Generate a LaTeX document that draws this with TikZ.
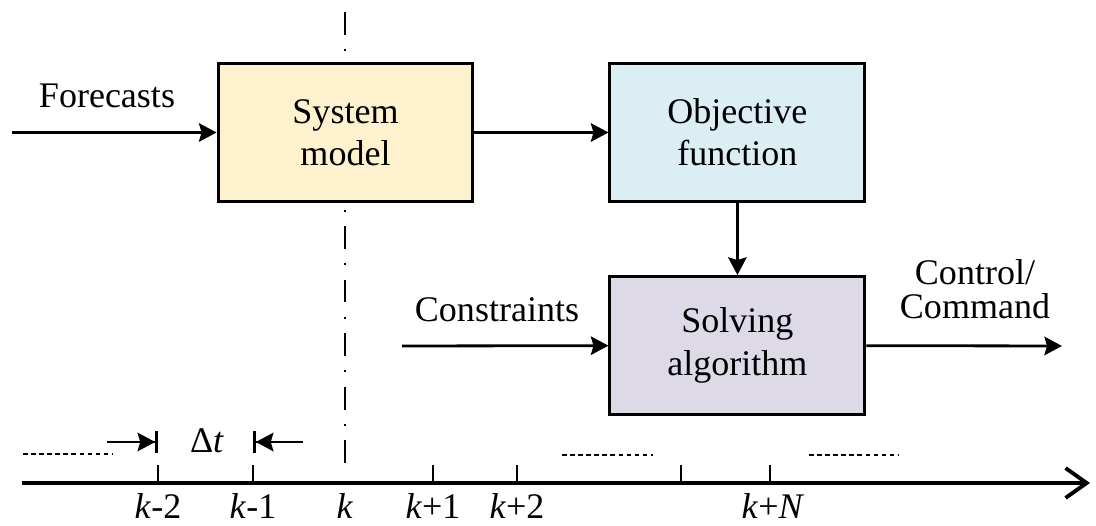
\documentclass[tikz,border=0pt]{standalone}
\usepackage{fontspec}
\setmainfont{Liberation Serif}
\usepackage{xcolor}
\usepackage{tikz}
\usetikzlibrary{positioning, arrows.meta, calc}

\definecolor{sysfill}{RGB}{253,241,206}
\definecolor{objfill}{RGB}{219,238,244}
\definecolor{solvefill}{RGB}{222,217,231}

\begin{document}
\begin{tikzpicture}[x=0.02cm, y=-0.02cm, node distance=2.68cm,
  block/.style={draw, rectangle, line width=1.7pt, minimum width=5.1cm, minimum height=2.76cm, inner sep=0pt, align=center, font=\fontsize{20.5}{24}\selectfont},
  lbl/.style={inner sep=0pt, font=\fontsize{20.5}{24}\selectfont},
  arr/.style={-{Stealth[length=10pt, width=10.5pt, inset=1.5pt]}, line width=1.6pt},
  bararr/.style={-{Stealth[length=10pt, width=10.5pt, inset=1.5pt]Bar[width=13pt]}, line width=1.6pt},
  tick/.style={line width=1.5pt},
  dots/.style={line width=1.6pt, dash pattern=on 2.6pt off 2pt}]
\useasboundingbox (0,0) rectangle (1096,526);

% sampling instant k
\coordinate (kTop) at (345,11.7);
\coordinate (kBot) at (345,466.7);
\draw[line width=1.1pt, dash pattern=on 13pt off 8.2pt on 1.1pt off 8.2pt] (kTop) -- (kBot);

\node[block, fill=sysfill] (sys) at (345.5,132.5) {System\\model};
\node[block, fill=objfill, right=of sys] (obj) {Objective\\function};
\node[block, fill=solvefill, below=1.44cm of obj] (solve) {Solving\\algorithm};

\coordinate (fcIn) at (12,132.5);
\coordinate (conIn) at (402,346);
\coordinate (ctrlOut) at (1062,346);

\draw[arr] (fcIn) -- (sys);
\draw[arr] (sys) -- (obj);
\draw[arr] (obj) -- (solve);
\draw[arr] (conIn) -- (solve);
\draw[arr] (solve) -- (ctrlOut);

\node[lbl, anchor=base] (fcLbl) at (107,108) {Forecasts};
\node[lbl, anchor=base] (conLbl) at (497,322) {Constraints};
\node[lbl, align=center, font=\fontsize{20.5}{19.5}\selectfont] (ctrlLbl) at (975,289) {Control/\\Command};

% time axis
\coordinate (tStart) at (22,483);
\coordinate (tEnd) at (1090,483);
\draw[line width=2.2pt, -{Straight Barb[length=12pt, width=17pt]}] (tStart) -- (tEnd);
\foreach \tx in {158,253,433,517,681,770}
  \draw[tick] (\tx,465) -- (\tx,483);
\foreach \tx/\tl in {158/{\textit{k}-2}, 253/{\textit{k}-1}, 345/{\textit{k}}, 433/{\textit{k}+1}, 517/{\textit{k}+2}, 773/{\textit{k}+\textit{N}}}
  \node[lbl, anchor=base] (t\tx) at (\tx,519) {\tl};

\draw[dots] (23,454) -- (113,454);
\draw[dots] (562,455) -- (653,455);
\draw[dots] (809,455) -- (898,455);

% sampling period
\coordinate (dtLeft) at (107,442);
\coordinate (dtRight) at (303,442);
\coordinate (barKm2) at (158,442);
\coordinate (barKm1) at (253,442);
\draw[bararr] (dtLeft) -- (barKm2);
\draw[bararr] (dtRight) -- (barKm1);
\node[lbl, anchor=base] (dt) at (207,453) {Δ\textit{t}};
\end{tikzpicture}
\end{document}
